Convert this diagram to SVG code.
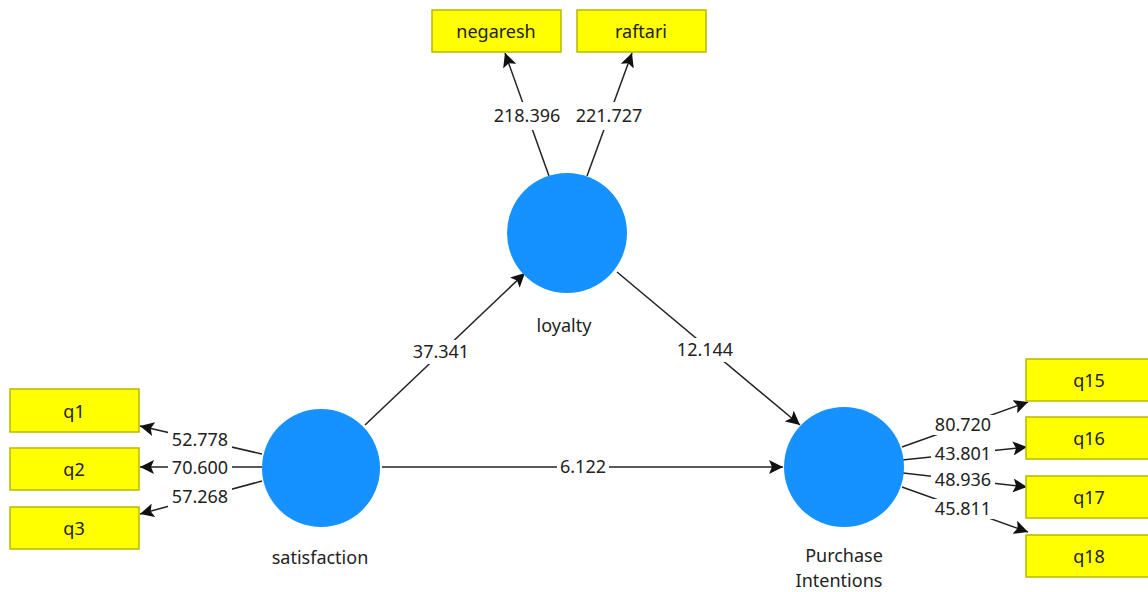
<svg xmlns="http://www.w3.org/2000/svg" width="1148" height="592" viewBox="0 0 1148 592">
<defs>
<marker id="arr" markerUnits="userSpaceOnUse" markerWidth="15" markerHeight="14" refX="14" refY="7" orient="auto">
<path d="M0,0 L14,7 L0,14 L3,7 z" fill="#111"/>
</marker>
<style>
.ind{fill:#ffff00;stroke:#b8b800;stroke-width:1.5}
.lv{fill:#1592ff}
.t{font-family:"Noto Sans","Open Sans",sans-serif;font-size:18px;fill:#222;text-anchor:middle}
.c{stroke:#222;stroke-width:1.5;fill:none}
.a{marker-end:url(#arr)}
.bg{fill:#fff}
</style>
</defs>
<rect width="1148" height="592" fill="#fff"/>
<g id="connectors">
<line class="c a" x1="549" y1="176" x2="505" y2="53"/>
<line class="c a" x1="587" y1="176" x2="632" y2="53"/>
<line class="c a" x1="365" y1="425" x2="525" y2="273"/>
<line class="c a" x1="617" y1="272" x2="800" y2="425"/>
<line class="c a" x1="382" y1="467" x2="783" y2="467"/>
<line class="c a" x1="262" y1="454" x2="140" y2="426"/>
<line class="c a" x1="262" y1="467" x2="140" y2="467"/>
<line class="c a" x1="262" y1="481" x2="140" y2="514"/>
<line class="c a" x1="902" y1="447" x2="1028" y2="402"/>
<line class="c a" x1="902" y1="460" x2="1027" y2="447"/>
<line class="c a" x1="903" y1="473" x2="1027" y2="487"/>
<line class="c a" x1="902" y1="487" x2="1028" y2="532"/>
<g id="labels">
<rect class="bg" x="491" y="102" width="72" height="28"/>
<text class="t" x="527" y="122">218.396</text>
<rect class="bg" x="573" y="102" width="72" height="28"/>
<text class="t" x="609" y="122">221.727</text>
<rect class="bg" x="409" y="340" width="64" height="24"/>
<text class="t" x="441" y="358">37.341</text>
<rect class="bg" x="673" y="338" width="64" height="24"/>
<text class="t" x="705" y="356">12.144</text>
<rect class="bg" x="557" y="455" width="52" height="24"/>
<text class="t" x="583" y="473">6.122</text>
<rect class="bg" x="168" y="430" width="64" height="20"/>
<text class="t" x="200" y="446">52.778</text>
<rect class="bg" x="168" y="458" width="64" height="20"/>
<text class="t" x="200" y="474">70.600</text>
<rect class="bg" x="168" y="487" width="64" height="20"/>
<text class="t" x="200" y="503">57.268</text>
<rect class="bg" x="931" y="415" width="64" height="20"/>
<text class="t" x="963" y="431">80.720</text>
<rect class="bg" x="931" y="444" width="64" height="20"/>
<text class="t" x="963" y="460">43.801</text>
<rect class="bg" x="931" y="470" width="64" height="20"/>
<text class="t" x="963" y="486">48.936</text>
<rect class="bg" x="931" y="499" width="64" height="20"/>
<text class="t" x="963" y="515">45.811</text>
</g>
</g>
<g id="negaresh"><rect class="ind" x="432" y="10" width="129" height="42"/><text class="t" x="496" y="38">negaresh</text></g>
<g id="raftari"><rect class="ind" x="577" y="10" width="129" height="42"/><text class="t" x="641" y="38">raftari</text></g>
<g id="q1"><rect class="ind" x="10" y="389" width="129" height="43"/><text class="t" x="74" y="418">q1</text></g>
<g id="q2"><rect class="ind" x="10" y="448" width="129" height="42"/><text class="t" x="74" y="476">q2</text></g>
<g id="q3"><rect class="ind" x="10" y="507" width="129" height="42"/><text class="t" x="74" y="535">q3</text></g>
<g id="q15"><rect class="ind" x="1026" y="359" width="130" height="42"/><text class="t" x="1089" y="387">q15</text></g>
<g id="q16"><rect class="ind" x="1026" y="417" width="130" height="42"/><text class="t" x="1089" y="445">q16</text></g>
<g id="q17"><rect class="ind" x="1026" y="476" width="130" height="42"/><text class="t" x="1089" y="504">q17</text></g>
<g id="q18"><rect class="ind" x="1026" y="535" width="130" height="42"/><text class="t" x="1089" y="563">q18</text></g>
<g id="loyalty"><circle class="lv" cx="567" cy="233" r="60"/><text class="t" x="564" y="332">loyalty</text></g>
<g id="satisfaction"><circle class="lv" cx="321" cy="468" r="59"/><text class="t" x="320" y="564">satisfaction</text></g>
<g id="purchase"><circle class="lv" cx="844" cy="467" r="60"/><text class="t" x="844" y="562">Purchase</text><text class="t" x="839" y="587">Intentions</text></g>
</svg>
